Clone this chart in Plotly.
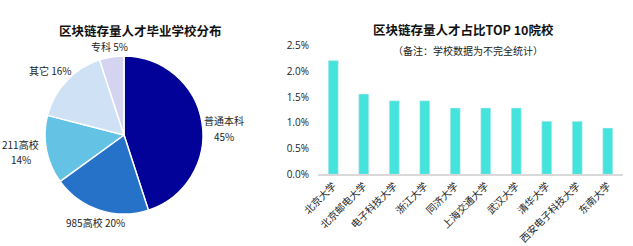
import plotly.graph_objects as go

# Pie data
pie_labels = ["普通本科", "985高校", "211高校", "其它", "专科"]
pie_values = [45, 20, 14, 16, 5]
pie_colors = ["#020299", "#2672c8", "#64c3e5", "#cfe1f5", "#d4d4f0"]

# Bar data
schools = ["北京大学", "北京邮电大学", "电子科技大学", "浙江大学", "同济大学",
           "上海交通大学", "武汉大学", "清华大学", "西安电子科技大学", "东南大学"]
shares = [2.21, 1.56, 1.43, 1.43, 1.29, 1.29, 1.29, 1.03, 1.03, 0.90]
y_ticks = [0, 0.5, 1.0, 1.5, 2.0, 2.5]
y_tick_text = ["0.0%", "0.5%", "1.0%", "1.5%", "2.0%", "2.5%"]

W, H = 633, 246
FONT = "Noto Sans CJK SC"

fig = go.Figure()

# pie: center (124,135), radius 79
cx, cy, r = 124, 135, 79
fig.add_trace(go.Pie(
    labels=pie_labels, values=pie_values, sort=False, direction="clockwise",
    rotation=0, marker=dict(colors=pie_colors, line=dict(color="white", width=1.5)),
    textinfo="none", hoverinfo="label+percent", showlegend=False,
    domain=dict(x=[(cx - r) / W, (cx + r) / W], y=[1 - (cy + r) / H, 1 - (cy - r) / H]),
))

fig.add_trace(go.Bar(
    x=schools, y=shares, marker=dict(color="#44e3dc"), showlegend=False,
    xaxis="x", yaxis="y", hoverinfo="x+y",
))

x0, x1 = 318, 623
ytop, ybot = 45.7, 174.3
fig.update_layout(
    width=W, height=H, margin=dict(l=0, r=0, t=0, b=0, autoexpand=False),
    paper_bgcolor="white", plot_bgcolor="white",
    font=dict(family=FONT, size=10, color="#222"),
    bargap=0.67,
    xaxis=dict(domain=[x0 / W, x1 / W], anchor="y", showgrid=False, showline=True,
               linecolor="#d9d9d9", linewidth=1.5, tickangle=-45, ticks="",
               automargin=False,
               tickfont=dict(family=FONT, size=10, color="#222"), fixedrange=True),
    yaxis=dict(domain=[1 - ybot / H, 1 - ytop / H], range=[0, 2.5], anchor="x",
               showgrid=False, zeroline=False, tickvals=y_ticks, ticktext=y_tick_text,
               automargin=False,
               tickfont=dict(family="Open Sans", size=10, color="#222"), ticks="",
               ticklabelstandoff=8, fixedrange=True),
)

ann = [
    dict(x=140 / W, y=1 - 30 / H, text="<b>区块链存量人才毕业学校分布</b>", font=dict(size=12.5, color="#111")),
    dict(x=463 / W, y=1 - 29 / H, text="<b>区块链存量人才占比TOP 10院校</b>", font=dict(size=12.5, color="#111")),
    dict(x=468 / W, y=1 - 51 / H, text="（备注：学校数据为不完全统计）", font=dict(size=10, color="#222")),
]
pct = dict(zip(pie_labels, pie_values))
label_pos = [
    (109, 46, f"专科 {pct['专科']}%"),
    (50, 71, f"其它 {pct['其它']}%"),
    (20, 144, "211高校"),
    (21, 159, f"{pct['211高校']}%"),
    (95, 222, f"985高校 {pct['985高校']}%"),
    (224, 120, "普通本科"),
    (224, 136, f"{pct['普通本科']}%"),
]
for (x, y, t) in label_pos:
    ann.append(dict(x=x / W, y=1 - y / H, text=t, font=dict(size=10, color="#222")))
for a in ann:
    a.update(xref="paper", yref="paper", showarrow=False, xanchor="center", yanchor="middle")
fig.update_layout(annotations=ann)

fig.write_html("out.html")
